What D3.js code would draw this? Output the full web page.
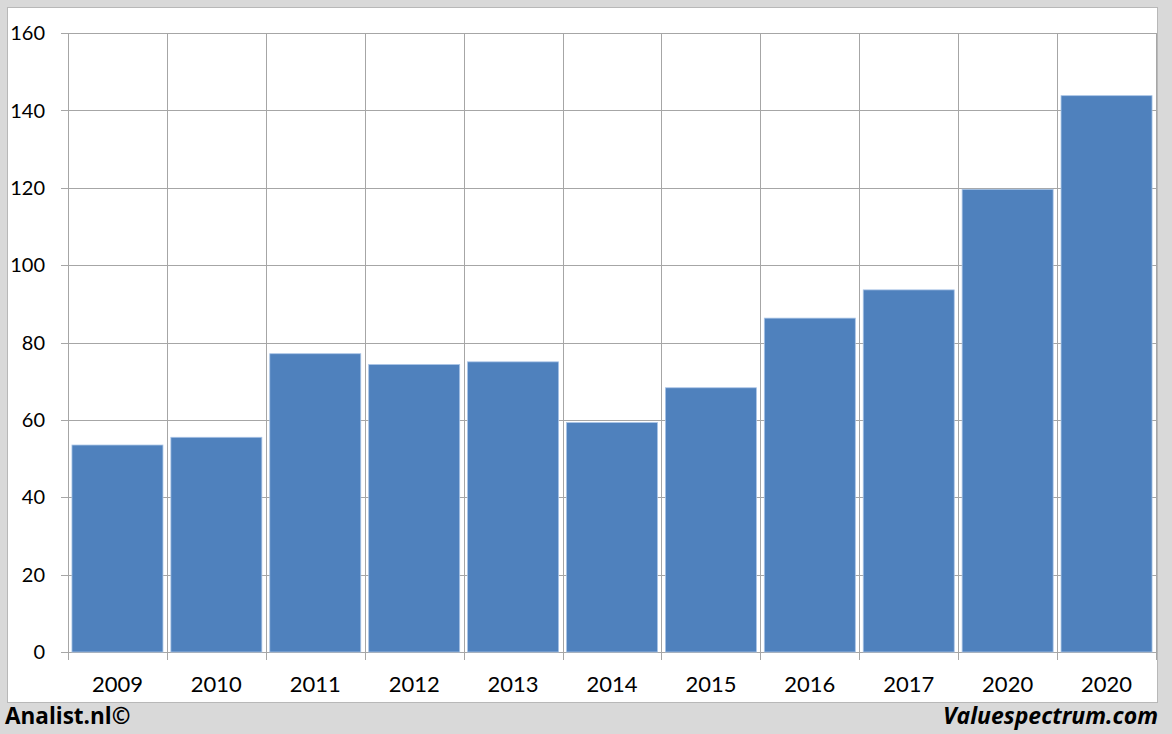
<!DOCTYPE html>
<html>
<head>
<meta charset="utf-8">
<script src="https://cdn.jsdelivr.net/npm/d3@7"></script>
<style>
  html, body { margin: 0; padding: 0; background: #d9d9d9; }
  svg { display: block; }
</style>
</head>
<body>
<svg id="chart" width="1172" height="734"></svg>
<script>
const categories = ["2009","2010","2011","2012","2013","2014","2015","2016","2017","2020","2020 "];
const values = [53.5, 55.5, 77.1, 74.3, 75.0, 59.3, 68.3, 86.3, 93.6, 119.6, 143.8];
const yTicks = [0, 20, 40, 60, 80, 100, 120, 140, 160];

const svg = d3.select("#chart");
const W = 1172, H = 734;
const margin = {left: 68, right: 1156, top: 33, bottom: 652};

svg.append("rect").attr("x", 0).attr("y", 0).attr("width", W).attr("height", H).attr("fill", "#d9d9d9");
svg.append("rect").attr("x", 7.5).attr("y", 7.5).attr("width", 1150).attr("height", 695)
  .attr("fill", "#ffffff").attr("stroke", "#b8b8b8").attr("stroke-width", 1);

const x = d3.scaleBand().domain(categories).range([margin.left, margin.right]).paddingInner(0.08).paddingOuter(0.04);
const xb = d3.scaleBand().domain(categories).range([margin.left, margin.right]).padding(0);
const y = d3.scaleLinear().domain([0, 160]).range([margin.bottom, margin.top]);

const font = "Lato, 'Open Sans', sans-serif";
const gridColor = "#a6a6a6";

// horizontal grid
svg.append("g").selectAll("line").data(yTicks).join("line")
  .attr("x1", margin.left - 7).attr("x2", margin.right)
  .attr("y1", d => Math.round(y(d)) + 0.5).attr("y2", d => Math.round(y(d)) + 0.5)
  .attr("stroke", gridColor).attr("stroke-width", 1);

// vertical grid at category boundaries
const bounds = categories.map(c => xb(c)).concat([margin.right]);
svg.append("g").selectAll("line").data(bounds).join("line")
  .attr("x1", d => Math.round(d) + 0.5).attr("x2", d => Math.round(d) + 0.5)
  .attr("y1", margin.top).attr("y2", margin.bottom + 8)
  .attr("stroke", gridColor).attr("stroke-width", 1);

// bars
svg.append("g").selectAll("rect").data(values).join("rect")
  .attr("x", (d, i) => x(categories[i]))
  .attr("y", d => y(d))
  .attr("width", x.bandwidth())
  .attr("height", d => y(0) - y(d))
  .attr("fill", "#4f81bd")
  .attr("stroke", "#a9c4e6").attr("stroke-width", 0.8);

// y labels
svg.append("g").selectAll("text").data(yTicks).join("text")
  .attr("x", 45).attr("y", d => y(d))
  .attr("dy", "0.36em").attr("text-anchor", "end")
  .attr("font-family", font).attr("font-size", 20).attr("fill", "#000")
  .text(d => d);

// x labels
svg.append("g").selectAll("text").data(categories).join("text")
  .attr("x", d => xb(d) + xb.bandwidth() / 2).attr("y", 692)
  .attr("text-anchor", "middle")
  .attr("font-family", font).attr("font-size", 22).attr("fill", "#000")
  .text(d => d.trim());

svg.append("text").attr("x", 5).attr("y", 724)
  .attr("font-family", "'Open Sans', sans-serif").attr("font-weight", "bold").attr("font-size", 22.5)
  .attr("fill", "#000").text("Analist.nl©");

svg.append("text").attr("x", 1158).attr("y", 724).attr("text-anchor", "end")
  .attr("font-family", "'Open Sans', sans-serif").attr("font-weight", "bold").attr("font-style", "italic").attr("font-size", 23)
  .attr("fill", "#000").text("Valuespectrum.com");
</script>
</body>
</html>
